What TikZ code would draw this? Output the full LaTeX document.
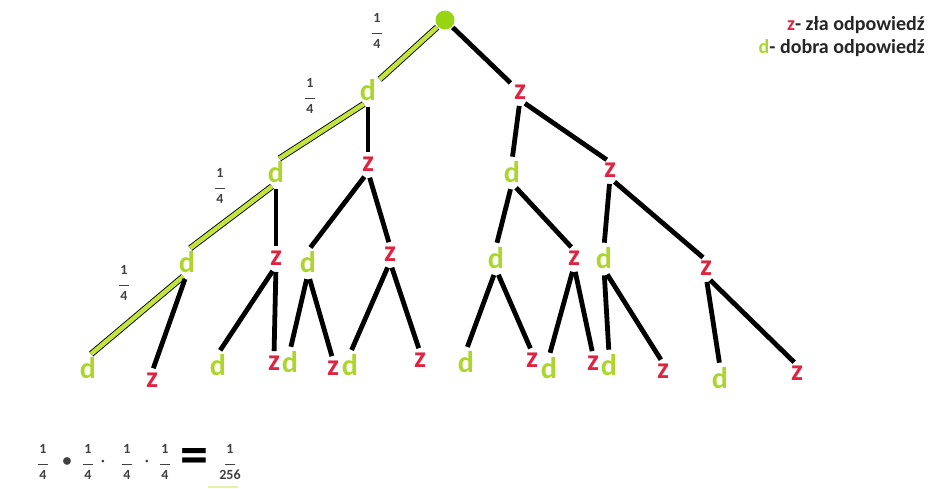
\documentclass[tikz,border=0pt]{standalone}
\usepackage{fontspec}
\setmainfont{Carlito}
\usepackage{tikz}
\usetikzlibrary{positioning}
\definecolor{goodgreen}{RGB}{172,214,42}
\definecolor{rootgreen}{RGB}{150,212,20}
\definecolor{pathgreen}{RGB}{196,228,60}
\definecolor{badred}{RGB}{222,36,64}
\newcommand{\qfrac}[2]{\begin{tabular}{@{}c@{}}#1\\[-3pt]\rule{10pt}{0.8pt}\\[-1pt]#2\end{tabular}}

\begin{document}
\begin{tikzpicture}[
  x=1pt, y=-1pt,
  every node/.style={font=\bfseries},
  good/.style={text=goodgreen, font=\fontsize{30}{30}\selectfont\bfseries, inner sep=0.5pt},
  bad/.style={text=badred, font=\fontsize{30}{30}\selectfont\bfseries, inner sep=0.5pt},
  branch/.style={draw=black, line width=4.8pt, shorten <=6pt, shorten >=4pt},
  chosen/.style={draw=black, line width=0.9pt, double=pathgreen, double distance=4.5pt, shorten <=5pt, shorten >=4pt},
  prob/.style={font=\fontsize{14}{15}\selectfont\bfseries, text=black!75, inner sep=0pt},
  legend/.style={font=\fontsize{20}{22}\selectfont\bfseries, text=black!85, anchor=east, inner sep=0pt}
]
\useasboundingbox (0,0) rectangle (928,488);

% root and first answer
\node[circle, fill=rootgreen, minimum size=19pt, inner sep=0pt] (root) at (445,20) {};
\node[good] (d) at (368,90) {d};
\node[bad] (z) at (520,92) {z};

% second answer
\node[good] (dd) at (276,172) {d};
\node[bad] (dz) at (368,164) {z};
\node[good] (zd) at (512,172) {d};
\node[bad] (zz) at (610,170) {z};

% third answer
\node[good] (ddd) at (187,262) {d};
\node[bad] (ddz) at (276,258) {z};
\node[good] (dzd) at (308,262) {d};
\node[bad] (dzz) at (390,254) {z};
\node[good] (zdd) at (496,258) {d};
\node[bad] (zdz) at (574,258) {z};
\node[good] (zzd) at (604,258) {d};
\node[bad] (zzz) at (706,268) {z};

% fourth answer
\node[good] (dddd) at (88,368) {d};
\node[bad] (dddz) at (152,380) {z};
\node[good] (ddzd) at (218,365) {d};
\node[bad] (ddzz) at (274,363) {z};
\node[good] (dzdd) at (290,362) {d};
\node[bad] (dzdz) at (333,368) {z};
\node[good] (dzzd) at (350,365) {d};
\node[bad] (dzzz) at (420,360) {z};
\node[good] (zddd) at (466,362) {d};
\node[bad] (zddz) at (532,360) {z};
\node[good] (zdzd) at (549,368) {d};
\node[bad] (zdzz) at (593,363) {z};
\node[good] (zzdd) at (609,365) {d};
\node[bad] (zzdz) at (663,371) {z};
\node[good] (zzzd) at (720,378) {d};
\node[bad] (zzzz) at (797,373) {z};

% probabilities along the good path
\node[prob] (p1) at (377,32) {\qfrac{1}{4}};
\node[prob] (p2) at (310,97) {\qfrac{1}{4}};
\node[prob] (p3) at (220,187) {\qfrac{1}{4}};
\node[prob] (p4) at (124,284) {\qfrac{1}{4}};

% good path
\draw[chosen, shorten <=1pt] (root) -- (d);
\draw[chosen] (d.south) -- (dd.north);
\draw[chosen] (dd.south) -- (ddd.north);
\draw[chosen] (ddd.south) -- (dddd.north);

% other branches
\draw[branch, shorten <=1pt] (root) -- (z);
\draw[branch] (d.south) -- (dz.north);
\draw[branch] (z.south) -- (zd.north);
\draw[branch] (z.south) -- (zz.north);
\draw[branch] (dd.south) -- (ddz.north);
\draw[branch] (dz.south) -- (dzd.north);
\draw[branch] (dz.south) -- (dzz.north);
\draw[branch] (zd.south) -- (zdd.north);
\draw[branch] (zd.south) -- (zdz.north);
\draw[branch] (zz.south) -- (zzd.north);
\draw[branch] (zz.south) -- (zzz.north);
\draw[branch] (ddd.south) -- (dddz.north);
\draw[branch] (ddz.south) -- (ddzd.north);
\draw[branch] (ddz.south) -- (ddzz.north);
\draw[branch] (dzd.south) -- (dzdd.north);
\draw[branch] (dzd.south) -- (dzdz.north);
\draw[branch] (dzz.south) -- (dzzd.north);
\draw[branch] (dzz.south) -- (dzzz.north);
\draw[branch] (zdd.south) -- (zddd.north);
\draw[branch] (zdd.south) -- (zddz.north);
\draw[branch] (zdz.south) -- (zdzd.north);
\draw[branch] (zdz.south) -- (zdzz.north);
\draw[branch] (zzd.south) -- (zzdd.north);
\draw[branch] (zzd.south) -- (zzdz.north);
\draw[branch] (zzz.south) -- (zzzd.north);
\draw[branch] (zzz.south) -- (zzzz.north);

% legend
\node[legend] (lz) at (925,25) {\textcolor{badred}{z}- zła odpowiedź};
\node[legend] (ld) at (925,48) {\textcolor{goodgreen}{d}- dobra odpowiedź};

% product of the probabilities
\fill[pathgreen!45] (208,486) rectangle (238,488);
\node[prob] (f1) at (43,463) {\qfrac{1}{4}};
\node[prob] (m1) at (67,462) {\fontsize{18}{18}\selectfont •};
\node[prob] (f2) at (88,463) {\qfrac{1}{4}};
\node[prob] (m2) at (103,463) {·};
\node[prob] (f3) at (127,463) {\qfrac{1}{4}};
\node[prob] (m3) at (147,463) {·};
\node[prob] (f4) at (165,463) {\qfrac{1}{4}};
\node[prob, text=black] (eq) at (194,461) {\fontsize{56}{56}\selectfont =};
\node[prob] (res) at (230,463) {\qfrac{1}{256}};
\end{tikzpicture}
\end{document}
